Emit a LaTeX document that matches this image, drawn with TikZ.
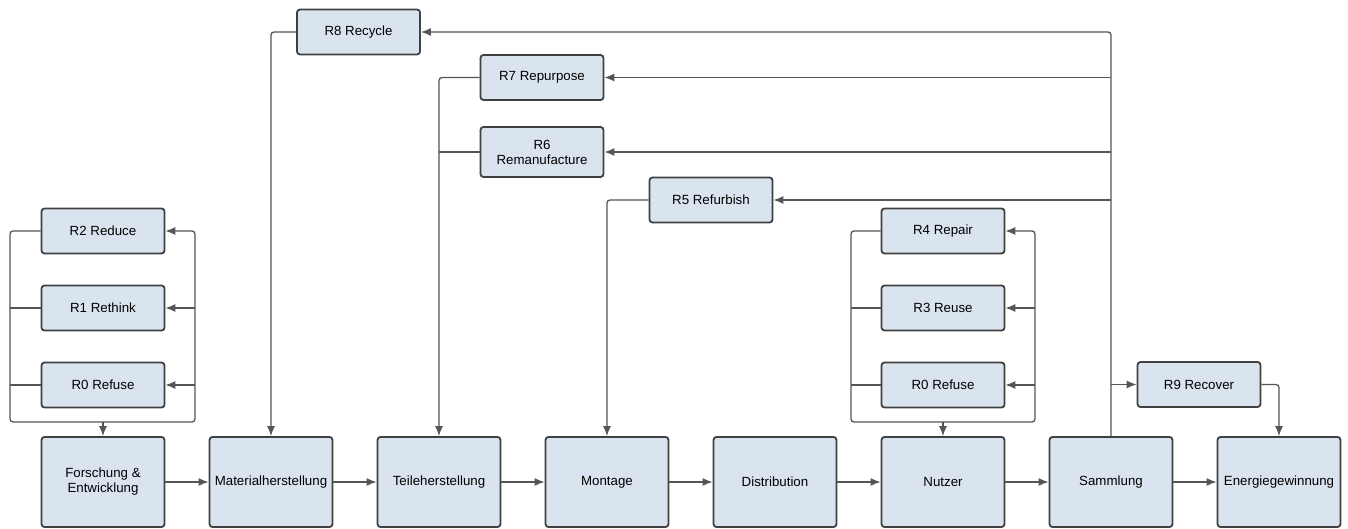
\documentclass[tikz,border=0pt]{standalone}
\usepackage{fontspec}
\setmainfont{Liberation Sans}
\usetikzlibrary{arrows.meta}
\definecolor{boxfill}{HTML}{DAE4EF}
\definecolor{boxdraw}{HTML}{404040}
\definecolor{linecol}{HTML}{555555}
\tikzset{
  rbox/.style={draw=boxdraw, fill=boxfill, line width=1.8pt, rounded corners=3pt,
    minimum width=123pt, minimum height=45pt, inner sep=1pt, align=center,
    font=\fontsize{13.3}{15}\selectfont},
  bbox/.style={rbox, minimum height=90pt},
  conn/.style={draw=linecol, line width=1.3pt, rounded corners=3pt},
  arr/.style={conn, -{Latex[length=10pt,width=8pt]}},
}
\begin{document}
\begin{tikzpicture}[x=1pt,y=-1pt]
\useasboundingbox (0,0) rectangle (1348,529);
% bottom row
\node[bbox] (fe) at (103,482) {Forschung \&\\Entwicklung};
\node[bbox] (ma) at (271,482) {Materialherstellung};
\node[bbox] (te) at (439,482) {Teileherstellung};
\node[bbox] (mo) at (607,482) {Montage};
\node[bbox] (di) at (775,482) {Distribution};
\node[bbox] (nu) at (943,482) {Nutzer};
\node[bbox] (sa) at (1111,482) {Sammlung};
\node[bbox] (en) at (1279,482) {Energiegewinnung};
% left cluster
\node[rbox] (r2) at (103,231) {R2 Reduce};
\node[rbox] (r1) at (103,308) {R1 Rethink};
\node[rbox] (r0) at (103,385) {R0 Refuse};
% right cluster
\node[rbox] (r4) at (943,231) {R4 Repair};
\node[rbox] (r3) at (943,308) {R3 Reuse};
\node[rbox] (r0b) at (943,385) {R0 Refuse};
% top
\node[rbox] (r8) at (358.5,32) {R8 Recycle};
\node[rbox] (r7) at (542,77.5) {R7 Repurpose};
\node[rbox, minimum height=50pt] (r6) at (542,152) {R6\\Remanufacture};
\node[rbox] (r5) at (711,200) {R5 Refurbish};
\node[rbox] (r9) at (1199,384.5) {R9 Recover};
% bottom arrows
\draw[arr] (fe.east) -- (ma.west);
\draw[arr] (ma.east) -- (te.west);
\draw[arr] (te.east) -- (mo.west);
\draw[arr] (mo.east) -- (di.west);
\draw[arr] (di.east) -- (nu.west);
\draw[arr] (nu.east) -- (sa.west);
\draw[arr] (sa.east) -- (en.west);
% left loop
\coordinate (LL) at (10,422);
\coordinate (LR) at (195,422);
\draw[arr] (r2.west) -| (LL) -- (LR) |- (r2.east);
\draw[conn] (r1.west) -- (r1.west -| LL);
\draw[conn] (r0.west) -- (r0.west -| LL);
\draw[arr] (r1.east -| LR) -- (r1.east);
\draw[arr] (r0.east -| LR) -- (r0.east);
\draw[arr] (fe.north |- LL) -- (fe.north);
% right loop
\coordinate (RL) at (851,422);
\coordinate (RR) at (1035,422);
\draw[arr] (r4.west) -| (RL) -- (RR) |- (r4.east);
\draw[conn] (r3.west) -- (r3.west -| RL);
\draw[conn] (r0b.west) -- (r0b.west -| RL);
\draw[arr] (r3.east -| RR) -- (r3.east);
\draw[arr] (r0b.east -| RR) -- (r0b.east);
\draw[arr] (nu.north |- RL) -- (nu.north);
% top returns
\draw[arr] (sa.north) |- (r8.east);
\draw[arr] (r7.east -| sa.north) -- (r7.east);
\draw[arr] (r6.east -| sa.north) -- (r6.east);
\draw[arr] (r5.east -| sa.north) -- (r5.east);
\draw[arr] (r9.west -| sa.north) -- (r9.west);
\draw[arr] (r9.east) -| (en.north);
\draw[arr] (r8.west) -| (ma.north);
\draw[arr] (r7.west) -| (te.north);
\draw[conn] (r6.west) -- (r6.west -| te.north);
\draw[arr] (r5.west) -| (mo.north);
\end{tikzpicture}
\end{document}
